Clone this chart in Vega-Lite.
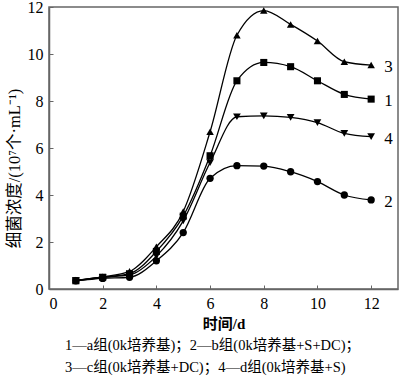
{
  "$schema": "https://vega.github.io/schema/vega-lite/v6.json",
  "width": 349,
  "height": 282,
  "autosize": {"type": "none"},
  "padding": {"left": 49, "top": 7, "right": 2, "bottom": 94},
  "background": "white",
  "config": {
    "view": {"stroke": "#666", "strokeWidth": 1.5},
    "font": "Liberation Serif",
    "axis": {"grid": false, "domainColor": "#666", "domainWidth": 1.5, "tickColor": "#666", "labelColor": "#000", "titleColor": "#000", "labelFont": "Liberation Serif, serif", "labelFontSize": 16}
  },
  "title": {
    "text": ["1—a组(0k培养基)；2—b组(0k培养基+S+DC)；", "3—c组(0k培养基+DC)；4—d组(0k培养基+S)"],
    "orient": "bottom",
    "anchor": "start",
    "frame": "group",
    "dx": 16,
    "offset": 8,
    "font": "Liberation Serif, Noto Sans CJK SC",
    "fontSize": 14.5,
    "fontWeight": "normal",
    "lineHeight": 22,
    "color": "#000"
  },
  "data": {
    "values": [
      {"day": 1, "value": 0.35, "group": "1"}, {"day": 2, "value": 0.5, "group": "1"}, {"day": 3, "value": 0.65, "group": "1"}, {"day": 4, "value": 1.6, "group": "1"}, {"day": 5, "value": 3.1, "group": "1"}, {"day": 6, "value": 5.67, "group": "1"}, {"day": 7, "value": 8.86, "group": "1"}, {"day": 8, "value": 9.64, "group": "1"}, {"day": 9, "value": 9.46, "group": "1"}, {"day": 10, "value": 8.86, "group": "1"}, {"day": 11, "value": 8.28, "group": "1"}, {"day": 12, "value": 8.08, "group": "1"},
      {"day": 1, "value": 0.35, "group": "2"}, {"day": 2, "value": 0.45, "group": "2"}, {"day": 3, "value": 0.5, "group": "2"}, {"day": 4, "value": 1.2, "group": "2"}, {"day": 5, "value": 2.4, "group": "2"}, {"day": 6, "value": 4.71, "group": "2"}, {"day": 7, "value": 5.25, "group": "2"}, {"day": 8, "value": 5.23, "group": "2"}, {"day": 9, "value": 4.99, "group": "2"}, {"day": 10, "value": 4.57, "group": "2"}, {"day": 11, "value": 4.0, "group": "2"}, {"day": 12, "value": 3.79, "group": "2"},
      {"day": 1, "value": 0.38, "group": "3"}, {"day": 2, "value": 0.52, "group": "3"}, {"day": 3, "value": 0.75, "group": "3"}, {"day": 4, "value": 1.8, "group": "3"}, {"day": 5, "value": 3.3, "group": "3"}, {"day": 6, "value": 6.69, "group": "3"}, {"day": 7, "value": 10.8, "group": "3"}, {"day": 8, "value": 11.85, "group": "3"}, {"day": 9, "value": 11.26, "group": "3"}, {"day": 10, "value": 10.55, "group": "3"}, {"day": 11, "value": 9.67, "group": "3"}, {"day": 12, "value": 9.53, "group": "3"},
      {"day": 1, "value": 0.36, "group": "4"}, {"day": 2, "value": 0.5, "group": "4"}, {"day": 3, "value": 0.6, "group": "4"}, {"day": 4, "value": 1.4, "group": "4"}, {"day": 5, "value": 2.9, "group": "4"}, {"day": 6, "value": 5.38, "group": "4"}, {"day": 7, "value": 7.33, "group": "4"}, {"day": 8, "value": 7.37, "group": "4"}, {"day": 9, "value": 7.3, "group": "4"}, {"day": 10, "value": 7.08, "group": "4"}, {"day": 11, "value": 6.62, "group": "4"}, {"day": 12, "value": 6.48, "group": "4"}
    ]
  },
  "encoding": {
    "x": {
      "field": "day", "type": "quantitative",
      "scale": {"domain": [0, 13], "nice": false},
      "axis": {"values": [0, 2, 4, 6, 8, 10, 12], "tickSize": -4, "labelPadding": 10, "title": "时间/d", "titleFont": "Liberation Serif, Noto Sans CJK SC", "titleFontSize": 15, "titleFontWeight": "bold", "titlePadding": 5}
    },
    "y": {
      "field": "value", "type": "quantitative",
      "scale": {"domain": [0, 12], "nice": false},
      "axis": {"values": [0, 2, 4, 6, 8, 10, 12], "tickSize": -4, "labelPadding": 10, "title": "细菌浓度/(10⁷个·mL⁻¹)", "titleFont": "Liberation Serif, Noto Sans CJK SC", "titleFontSize": 16.5, "titleFontWeight": "normal", "titlePadding": 5, "titleY": 161, "titleAlign": "center"}
    }
  },
  "layer": [
    {
      "mark": {"type": "line", "interpolate": "monotone", "color": "black", "strokeWidth": 1.3},
      "encoding": {"detail": {"field": "group"}}
    },
    {
      "mark": {"type": "point", "filled": true, "color": "black", "opacity": 1},
      "encoding": {
        "shape": {"field": "group", "type": "nominal", "scale": {"domain": ["1", "2", "3", "4"], "range": ["square", "circle", "triangle-up", "triangle-down"]}, "legend": null},
        "size": {"field": "group", "type": "nominal", "scale": {"domain": ["1", "2", "3", "4"], "range": [50, 60, 75, 75]}, "legend": null}
      }
    },
    {
      "transform": [{"filter": "datum.day == 12"}],
      "mark": {"type": "text", "align": "left", "baseline": "middle", "dx": 13, "dy": 2, "fontSize": 17, "font": "Liberation Serif, serif", "color": "black"},
      "encoding": {"text": {"field": "group"}}
    }
  ]
}
